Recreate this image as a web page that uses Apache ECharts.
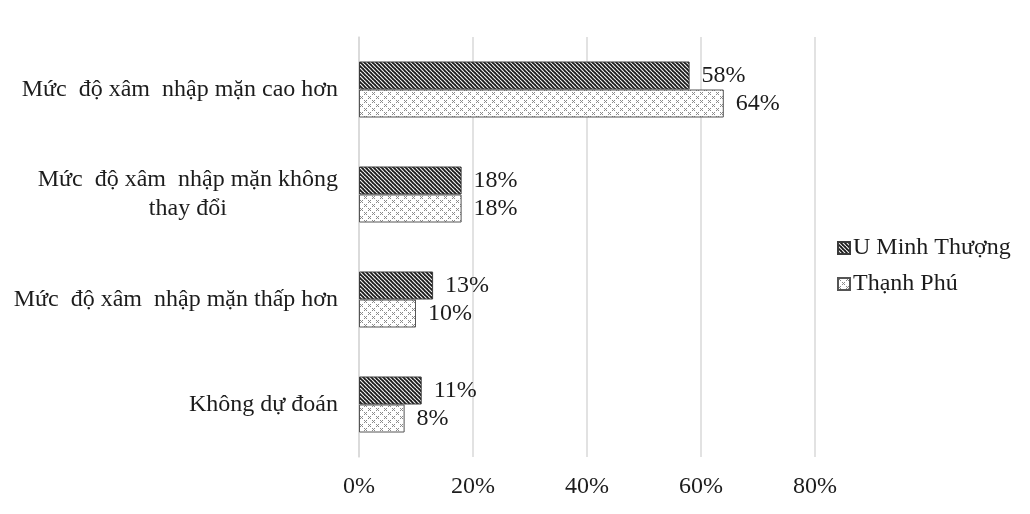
<!DOCTYPE html>
<html>
<head>
<meta charset="utf-8">
<script src="https://cdn.jsdelivr.net/npm/echarts@6/dist/echarts.min.js"></script>
<style>
  html, body { margin: 0; padding: 0; background: #ffffff; }
  #chart { width: 1030px; height: 514px; }
</style>
</head>
<body>
<div id="chart"></div>
<script>
// Survey answers, listed top to bottom
const categories = [
  'Mức  độ xâm  nhập mặn cao hơn',
  'Mức  độ xâm  nhập mặn không\nthay đổi',
  'Mức  độ xâm  nhập mặn thấp hơn',
  'Không dự đoán'
];
const seriesNames = ['U Minh Thượng', 'Thạnh Phú'];
const uMinhThuong = [58, 18, 13, 11];
const thanhPhu = [64, 18, 10, 8];
const xTicks = [0, 20, 40, 60, 80];

const FONT = '"Liberation Serif", "Times New Roman", serif';
const TEXT = '#1c1c1c';
const SIZE = 24;

// Dark diagonal hatch fill
function hatchPattern() {
  const s = 4;
  const c = document.createElement('canvas');
  c.width = s; c.height = s;
  const g = c.getContext('2d');
  g.fillStyle = '#1a1a1a';
  g.fillRect(0, 0, s, s);
  g.strokeStyle = '#eeeeee';
  g.lineWidth = 1.2;
  for (let k = -1; k <= 1; k++) {
    g.beginPath();
    g.moveTo(k * s, 0);
    g.lineTo(k * s + s, s);
    g.stroke();
  }
  return c;
}

// Light dotted-cross fill
function dotPattern() {
  const s = 8;
  const c = document.createElement('canvas');
  c.width = s; c.height = s;
  const g = c.getContext('2d');
  g.fillStyle = '#ffffff';
  g.fillRect(0, 0, s, s);
  g.fillStyle = '#8a8a8a';
  const pts = [[0,0],[2,2],[0,2],[2,0],[1,1],[4,4],[5,5],[6,6],[4,6],[6,4]];
  pts.forEach(p => g.fillRect(p[0], p[1], 1, 1));
  return c;
}

const darkFill = { image: hatchPattern(), repeat: 'repeat' };
const lightFill = { image: dotPattern(), repeat: 'repeat' };

// Category labels: right-aligned, wrapped second line centred under the first
function catLabel(v) {
  const parts = v.split('\n');
  if (parts.length === 1) return '{r|' + v + '}';
  return parts.map(p => '{c|' + p + '}').join('\n');
}

const chart = echarts.init(document.getElementById('chart'), null, { renderer: 'canvas' });

chart.setOption({
  backgroundColor: '#ffffff',
  animation: false,
  textStyle: { fontFamily: FONT },
  grid: { left: 359, right: 215, top: 37, bottom: 57, containLabel: false },
  legend: {
    orient: 'vertical',
    left: 832,
    top: 231,
    itemWidth: 12,
    itemHeight: 12,
    itemGap: 12,
    icon: 'rect',
    textStyle: { fontFamily: FONT, fontSize: 24, color: TEXT, padding: [0, 0, 0, -2] },
    data: seriesNames
  },
  xAxis: {
    type: 'value',
    min: xTicks[0],
    max: xTicks[xTicks.length - 1],
    interval: 20,
    axisLine: { show: false },
    axisTick: { show: false },
    splitLine: { show: true, lineStyle: { color: '#d9d9d9', width: 1.5 } },
    axisLabel: {
      formatter: '{value}%',
      fontFamily: FONT,
      fontSize: SIZE,
      color: TEXT,
      margin: 18
    }
  },
  yAxis: {
    type: 'category',
    inverse: true,
    data: categories,
    axisLine: { show: true, lineStyle: { color: '#d9d9d9', width: 1.5 } },
    axisTick: { show: false },
    axisLabel: {
      margin: 21,
      fontFamily: FONT,
      fontSize: SIZE,
      color: TEXT,
      formatter: catLabel,
      rich: {
        r: { fontFamily: FONT, fontSize: SIZE, color: TEXT, lineHeight: 29 },
        c: { fontFamily: FONT, fontSize: SIZE, color: TEXT, lineHeight: 29, align: 'center' }
      }
    }
  },
  series: [
    {
      name: seriesNames[0],
      type: 'bar',
      data: uMinhThuong,
      barWidth: 28,
      barGap: '0%',
      itemStyle: { color: darkFill, borderColor: '#3a3a3a', borderWidth: 1 },
      label: {
        show: true, position: 'right', distance: 12,
        formatter: '{c}%', fontFamily: FONT, fontSize: SIZE, color: TEXT
      }
    },
    {
      name: seriesNames[1],
      type: 'bar',
      data: thanhPhu,
      barWidth: 28,
      barGap: '0%',
      itemStyle: { color: lightFill, borderColor: '#555555', borderWidth: 1 },
      label: {
        show: true, position: 'right', distance: 12,
        formatter: '{c}%', fontFamily: FONT, fontSize: SIZE, color: TEXT
      }
    }
  ]
});
</script>
</body>
</html>
